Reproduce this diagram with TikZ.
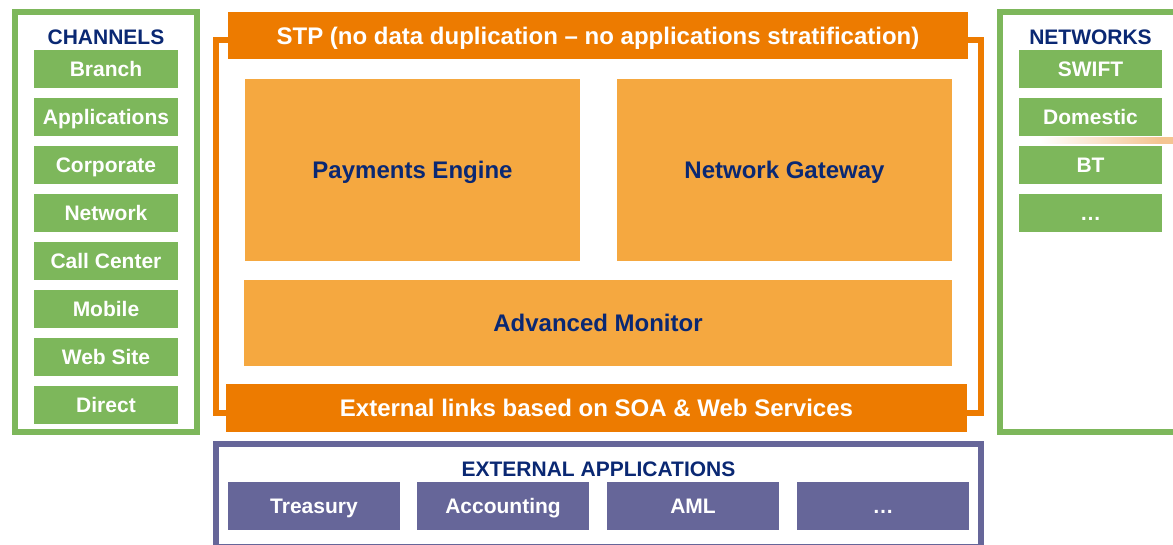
\documentclass[tikz,border=0pt]{standalone}
\usepackage{fontspec}
\setmainfont{Liberation Sans}
\begin{document}
\begin{tikzpicture}[x=1pt,y=-1pt,
  every node/.style={inner sep=0pt,outer sep=0pt,font=\bfseries},
  small/.style={font=\fontsize{21}{24}\selectfont\bfseries,text height=15pt,text depth=0pt},
  big/.style={font=\fontsize{24}{28}\selectfont\bfseries,text height=17.2pt,text depth=0pt},
  greenbox/.style={small,fill=cgreen,text=white,minimum height=38pt},
  purplebox/.style={small,fill=cpurple,text=white,minimum width=172pt,minimum height=48pt},
  orangebar/.style={big,fill=corange,text=white},
  lightbox/.style={big,fill=clight,text=cnavy},
  heading/.style={small,text=cnavy},
  frame/.style={line width=6pt}]
\definecolor{cgreen}{RGB}{125,183,91}
\definecolor{corange}{RGB}{237,123,0}
\definecolor{clight}{RGB}{245,168,64}
\definecolor{cnavy}{RGB}{10,40,115}
\definecolor{cpurple}{RGB}{102,102,153}
\definecolor{cpeach}{RGB}{244,196,145}
\useasboundingbox (0,0) rectangle (1173,545);
\clip (0,0) rectangle (1173,545);
% left channels frame
\draw[frame,draw=cgreen] (15,12) rectangle (197,432);
\node[heading] (channels) at (106,37) {CHANNELS};
\foreach \t [count=\i from 0] in {Branch,Applications,Corporate,Network,Call Center,Mobile,Web Site,Direct}
  \node[greenbox,minimum width=144pt] (ch\i) at (106,69+48*\i) {\t};
% right networks frame
\draw[frame,draw=cgreen] (1180,12) -- (1000,12) -- (1000,432) -- (1180,432);
\shade[left color=white,right color=cpeach] (1040,137.5) rectangle (1160,144);
\fill[cpeach] (1159.5,137.5) rectangle (1180,144);
\node[heading] (networks) at (1090.5,37) {NETWORKS};
\foreach \t [count=\i from 0] in {SWIFT,Domestic,BT,…}
  \node[greenbox,minimum width=143pt] (nw\i) at (1090.5,69+48*\i) {\t};
% orange STP frame
\draw[frame,draw=corange] (216,40.5) rectangle (981,413);
\node[orangebar,minimum width=740pt,minimum height=47pt] (stp) at (598,35.5) {STP (no data duplication – no applications stratification)};
\node[lightbox,minimum width=335pt,minimum height=182pt] (pe) at (412.5,170) {Payments Engine};
\node[lightbox,minimum width=335pt,minimum height=182pt] (ng) at (784.5,170) {Network Gateway};
\node[lightbox,minimum width=708pt,minimum height=86pt] (am) at (598,323) {Advanced Monitor};
\node[orangebar,minimum width=741pt,minimum height=48pt] (ext) at (596.5,408) {External links based on SOA \& Web Services};
% external applications
\draw[line width=5.5pt,draw=cpurple] (216,444) rectangle (981,546.5);
\node[heading] (extapps) at (598.5,469) {EXTERNAL APPLICATIONS};
\node[purplebox] (tr) at (314,506) {Treasury};
\node[purplebox] (ac) at (503,506) {Accounting};
\node[purplebox] (aml) at (693,506) {AML};
\node[purplebox] (more) at (883,506) {…};
\end{tikzpicture}
\end{document}
